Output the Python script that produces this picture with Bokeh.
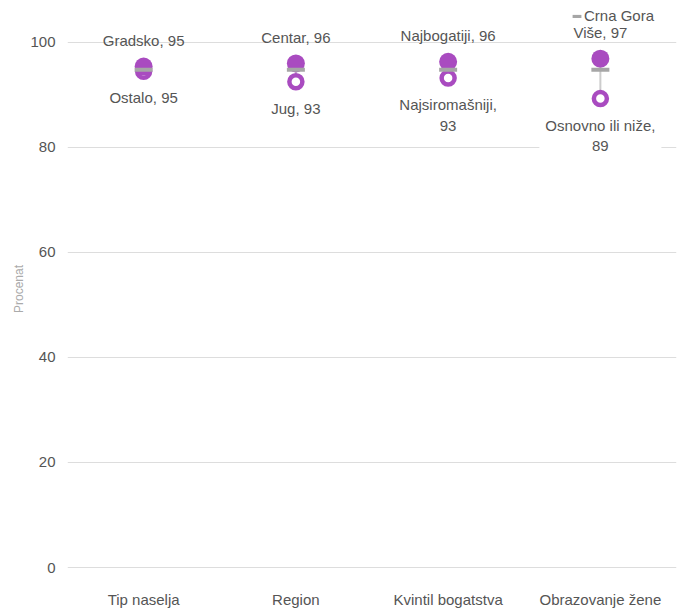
from bokeh.plotting import figure
from bokeh.models import (ColumnDataSource, FactorRange, Range1d, Label, Legend,
                          LegendItem, FixedTicker)
from bokeh.embed import file_html
from bokeh.resources import INLINE

# ---- data ----
categories = ["Tip naselja", "Region", "Kvintil bogatstva", "Obrazovanje žene"]
high_names = ["Gradsko", "Centar", "Najbogatiji", "Više"]
high_values = [95.4, 96.0, 96.3, 96.9]
low_names = ["Ostalo", "Jug", "Najsiromašniji", "Osnovno ili niže"]
low_values = [94.5, 92.5, 93.2, 89.3]
national_name = "Crna Gora"
national_values = [94.8, 94.8, 94.8, 94.8]
low_wrap = [False, False, True, True]
y_ticks = [0, 20, 40, 60, 80, 100]

PURPLE = "#A94BC0"
GREY_DASH = "#A6A6A6"
GREY_LINE = "#CCCCCC"
TEXT = "#555555"
FONT = "Liberation Sans"

src = ColumnDataSource(dict(cat=categories, hi=high_values, lo=low_values,
                            nat=national_values))

p = figure(width=683, height=610, output_backend="svg", toolbar_location=None,
           x_range=FactorRange(*categories, range_padding=0),
           y_range=Range1d(-1.90, 107.98),
           min_border_left=67, min_border_right=7, min_border_top=0,
           min_border_bottom=32)
p.outline_line_color = None
p.background_fill_color = "white"

# axes
p.yaxis.ticker = FixedTicker(ticks=y_ticks)
p.yaxis.axis_line_color = None
p.yaxis.major_tick_line_color = None
p.yaxis.major_tick_out = 0
p.yaxis.major_tick_in = 0
p.yaxis.minor_tick_line_color = None
p.yaxis.major_label_text_font = FONT
p.yaxis.major_label_text_font_size = "15px"
p.yaxis.major_label_text_color = TEXT
p.yaxis.major_label_standoff = 12
p.yaxis.axis_label = "Procenat"
p.yaxis.axis_label_text_font = FONT
p.yaxis.axis_label_text_font_size = "12px"
p.yaxis.axis_label_text_font_style = "normal"
p.yaxis.axis_label_text_color = "#AAAAAA"
p.yaxis.axis_label_standoff = 1

p.xaxis.axis_line_color = None
p.xaxis.major_tick_line_color = None
p.xaxis.major_tick_out = 0
p.xaxis.major_tick_in = 0
p.xaxis.major_label_text_font = FONT
p.xaxis.major_label_text_font_size = "15px"
p.xaxis.major_label_text_color = TEXT
p.xaxis.major_label_standoff = 13

p.xgrid.grid_line_color = None
p.ygrid.grid_line_color = "#DDDDDD"
p.ygrid.grid_line_width = 1

# glyphs
p.segment(x0="cat", y0="lo", x1="cat", y1="hi", source=src,
          line_color=GREY_LINE, line_width=2)
p.scatter(x="cat", y="lo", source=src, size=13, fill_color="white",
          line_color=PURPLE, line_width=4.5)
p.scatter(x="cat", y="hi", source=src, size=18, fill_color=PURPLE,
          line_color=PURPLE, line_width=0)
nat = p.rect(x="cat", y="nat", source=src, width=18, height=4,
             width_units="screen", height_units="screen",
             fill_color=GREY_DASH, line_color=None)

# labels (x in synthetic categorical coordinates: band centre = index + 0.5)
for i, (n, v) in enumerate(zip(high_names, high_values)):
    p.add_layout(Label(x=i + 0.5, y=v, text=f"{n}, {int(v + 0.5)}", y_offset=26,
                       text_align="center", text_baseline="middle",
                       text_font=FONT, text_font_size="15px", text_color=TEXT))
for i, (n, v, w) in enumerate(zip(low_names, low_values, low_wrap)):
    sep = ",\n" if w else ", "
    p.add_layout(Label(x=i + 0.5, y=v, text=f"{n}{sep}{int(v + 0.5)}", y_offset=-12,
                       text_align="center", text_baseline="top",
                       text_font=FONT, text_font_size="15px", text_color=TEXT,
                       text_line_height=1.2, padding=6,
                       background_fill_color="white"))

legend = Legend(items=[LegendItem(label=national_name, renderers=[nat])],
                location=(504, 553), orientation="vertical",
                glyph_width=11, glyph_height=4, label_height=4,
                label_standoff=2, padding=0, margin=0, spacing=0,
                border_line_color=None, background_fill_alpha=0,
                label_text_font=FONT, label_text_font_size="15px",
                label_text_color=TEXT)
p.add_layout(legend)

open("out.html", "w").write(file_html(p, INLINE))
